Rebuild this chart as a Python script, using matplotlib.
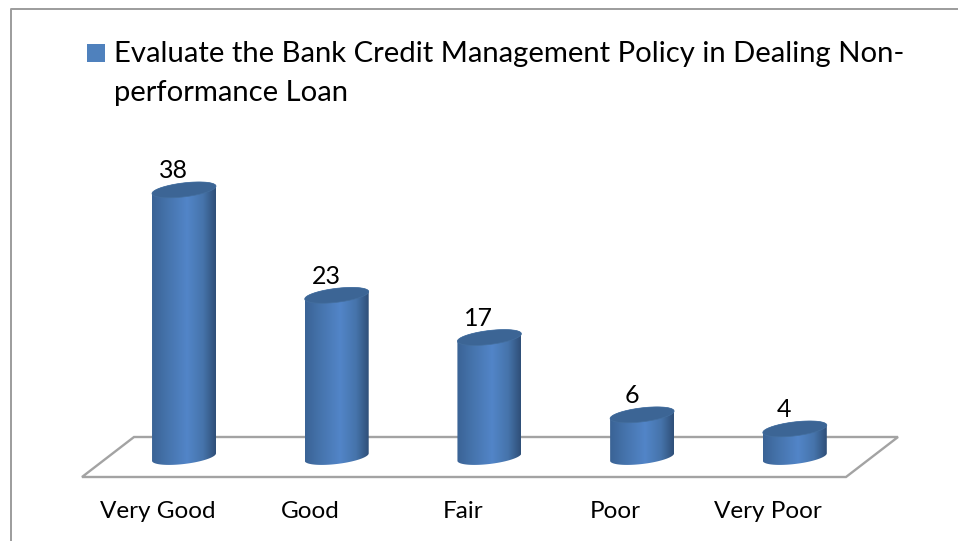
import numpy as np
import matplotlib
matplotlib.use("Agg")
import matplotlib.pyplot as plt
from matplotlib.colors import LinearSegmentedColormap
from matplotlib.patches import Polygon, Rectangle

categories = ["Very Good", "Good", "Fair", "Poor", "Very Poor"]
values = [38, 23, 17, 6, 4]
legend_lines = ["Evaluate the Bank Credit Management Policy in Dealing Non-", "performance Loan"]

plt.rcParams["font.family"] = ["Lato", "DejaVu Sans"]

W, H = 958, 541
fig = plt.figure(figsize=(W / 100, H / 100), dpi=100)
ax = fig.add_axes([0, 0, 1, 1])

# scale: pixels per category / per unit, and where category 0 / value 0 sit
X_STEP = 152.7
Y_UNIT = 7.03
X0 = 184.0
Y0 = 457.0
ax.axis("off")


def px(x):
    return (x - X0) / X_STEP


def py(y):
    return (Y0 - y) / Y_UNIT


# half width and the squashed, slightly tilted end caps, in pixels
A = 32.0
B = 7.0
TILT = 3.7
t = np.linspace(0, 2 * np.pi, 121)

body_cmap = LinearSegmentedColormap.from_list(
    "cyl", [(0, "#3a6395"), (0.25, "#4674ad"), (0.55, "#5285c8"), (0.8, "#4674ab"), (1, "#2f4f78")]
)
grad = np.linspace(0, 1, 256).reshape(1, -1)

# grey floor
floor_x = [134, 898, 846, 82]
floor_y = [437, 437, 477, 477]
ax.add_patch(Polygon(list(zip(px(np.array(floor_x)), py(np.array(floor_y)))), closed=True,
                     facecolor="white", edgecolor="#a3a3a3", linewidth=1.7, zorder=1))

for i, v in enumerate(values):
    dx = A / X_STEP
    # cap outline relative to its centre
    ex = A * np.cos(t) / X_STEP
    ey = (TILT * np.cos(t) + B * np.sin(t)) / Y_UNIT

    # body: lower half of the base ellipse and the whole of the top one
    lower = np.sin(t) <= 0
    low_idx = np.argsort(ex[lower])
    base_x = i + ex[lower][low_idx]
    base_y = ey[lower][low_idx]
    upper = np.sin(t) >= 0
    up_idx = np.argsort(-ex[upper])
    top_x = i + ex[upper][up_idx]
    top_y = v + ey[upper][up_idx]
    outline = np.column_stack([np.r_[base_x, top_x], np.r_[base_y, top_y]])
    clip = Polygon(outline, closed=True, transform=ax.transData, facecolor="none", edgecolor="none")
    ax.add_patch(clip)

    img = ax.imshow(grad, cmap=body_cmap, aspect="auto", zorder=2,
                    extent=[i - dx, i + dx, -2, v + 2])
    img.set_clip_path(clip)

    ax.add_patch(Polygon(np.column_stack([i + ex, v + ey]), closed=True,
                         facecolor="#3c6595", edgecolor="#446f9f", linewidth=0.5, zorder=3))

    ax.annotate(str(v), (i, v), xytext=(-10.5 * 0.72, 19 * 0.72), textcoords="offset points",
                ha="center", va="center", fontsize=18, color="black", zorder=4)
    ax.text(i - 26.5 / X_STEP, py(511), categories[i], ha="center", va="center",
            fontsize=17.5, color="black", zorder=4)

ax.set_xlim(px(0), px(W))
ax.set_ylim(py(H), py(0))

# legend swatch and wrapped series name
ax.add_patch(Rectangle((px(87), py(62)), 18 / X_STEP, 18 / Y_UNIT, facecolor="#4f81bd",
                       edgecolor="none", zorder=4))
ax.text(px(114), py(62.5), legend_lines[0], ha="left", va="baseline", fontsize=21.1, color="black", zorder=4)
ax.text(px(114), py(100.5), legend_lines[1], ha="left", va="baseline", fontsize=21.1, color="black", zorder=4)

# chart area border, only top and left show
ax.plot([px(W), px(10.5), px(10.5)], [py(9.5), py(9.5), py(H)], color="#9c9c9c", linewidth=1.4,
        zorder=5, clip_on=False)

fig.savefig("out.png", dpi=100)
